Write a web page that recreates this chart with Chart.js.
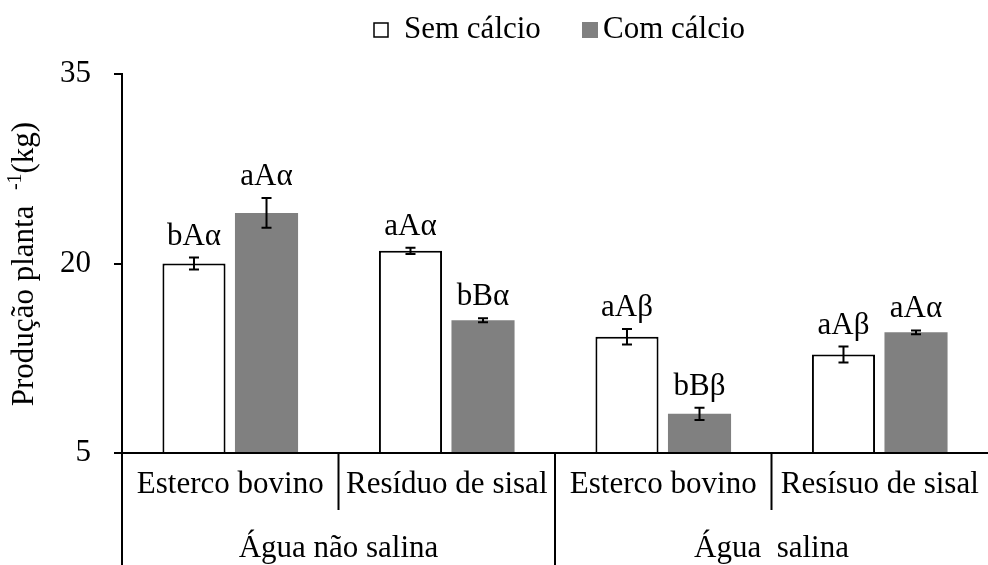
<!DOCTYPE html>
<html>
<head>
<meta charset="utf-8">
<script src="https://cdn.jsdelivr.net/npm/chart.js@4"></script>
<style>
  html, body { margin: 0; padding: 0; background: #fff; }
  #wrap { width: 988px; height: 565px; }
</style>
</head>
<body>
<div id="wrap"><canvas id="grafico"></canvas></div>
<script>
const categorias = ['Esterco bovino', 'Resíduo de sisal', 'Esterco bovino', 'Resísuo de sisal'];
const grupos = ['Água não salina', 'Água  salina'];
const semCalcio = [20.0, 21.0, 14.2, 12.8];
const comCalcio = [24.0, 15.5, 8.1, 14.55];
const erroSem = [0.47, 0.24, 0.62, 0.63];
const erroCom = [1.18, 0.16, 0.49, 0.15];
const letrasSem = ['bAα', 'aAα', 'aAβ', 'aAβ'];
const letrasCom = ['aAα', 'bBα', 'bBβ', 'aAα'];
const yTicks = [5, 20, 35];

const FONTE = "'Liberation Serif', 'Times New Roman', serif";

const extras = {
    id: 'extras',
    afterDraw(chart) {
        const ctx = chart.ctx;
        const x = chart.scales.x;
        const y = chart.scales.y;
        const area = chart.chartArea;
        ctx.save();

        // barras de erro e letras
        const erros = [erroSem, erroCom];
        const letras = [letrasSem, letrasCom];
        chart.data.datasets.forEach((ds, d) => {
            const meta = chart.getDatasetMeta(d);
            meta.data.forEach((bar, i) => {
                const v = ds.data[i];
                const yt = y.getPixelForValue(v + erros[d][i]);
                const yb = y.getPixelForValue(v - erros[d][i]);
                ctx.strokeStyle = '#000';
                ctx.lineWidth = 2;
                ctx.beginPath();
                ctx.moveTo(bar.x, yt); ctx.lineTo(bar.x, yb);
                ctx.moveTo(bar.x - 5, yt); ctx.lineTo(bar.x + 5, yt);
                ctx.moveTo(bar.x - 5, yb); ctx.lineTo(bar.x + 5, yb);
                ctx.stroke();
                ctx.fillStyle = '#000';
                ctx.font = '31px ' + FONTE;
                ctx.textAlign = 'center';
                ctx.textBaseline = 'alphabetic';
                ctx.fillText(letras[d][i], bar.x, yt - 13);
            });
        });

        // eixo x em dois niveis
        const n = categorias.length;
        const limite = i => {
            if (i === 0) return area.left;
            if (i === n) return area.right;
            return (x.getPixelForValue(i - 1) + x.getPixelForValue(i)) / 2;
        };
        ctx.strokeStyle = '#000';
        ctx.lineWidth = 2;
        for (let i = 0; i < n; i++) {
            const xl = limite(i);
            const fim = (i % 2 === 0) ? chart.height : area.bottom + 57;
            ctx.beginPath();
            ctx.moveTo(xl, area.bottom);
            ctx.lineTo(xl, fim);
            ctx.stroke();
        }
        ctx.fillStyle = '#000';
        ctx.font = '31px ' + FONTE;
        ctx.textAlign = 'center';
        ctx.textBaseline = 'middle';
        categorias.forEach((c, i) => {
            ctx.fillText(c, x.getPixelForValue(i), area.bottom + 32);
        });
        grupos.forEach((g, k) => {
            const xc = (limite(2 * k) + limite(2 * k + 2)) / 2;
            ctx.fillText(g, xc, area.bottom + 96);
        });

        // legenda
        const ds0 = chart.data.datasets[0];
        const ds1 = chart.data.datasets[1];
        ctx.textAlign = 'left';
        ctx.textBaseline = 'middle';
        ctx.fillStyle = ds0.backgroundColor;
        ctx.fillRect(374, 23, 14, 14);
        ctx.strokeStyle = ds0.borderColor;
        ctx.lineWidth = 1.5;
        ctx.strokeRect(374, 23, 14, 14);
        ctx.fillStyle = '#000';
        ctx.fillText(ds0.label, 404, 30);
        ctx.fillStyle = ds1.backgroundColor;
        ctx.fillRect(582, 22, 16, 16);
        ctx.fillStyle = '#000';
        ctx.fillText(ds1.label, 603, 30);

        // titulo do eixo y com sobrescrito
        ctx.translate(25, 264);
        ctx.rotate(-Math.PI / 2);
        ctx.textBaseline = 'middle';
        const t1 = 'Produção planta  ';
        const t2 = '-1';
        const t3 = '(kg)';
        ctx.font = '31px ' + FONTE;
        const w1 = ctx.measureText(t1).width;
        const w3 = ctx.measureText(t3).width;
        ctx.font = '20px ' + FONTE;
        const w2 = ctx.measureText(t2).width;
        let px = -(w1 + w2 + w3) / 2;
        ctx.font = '31px ' + FONTE;
        ctx.fillText(t1, px, 0);
        px += w1;
        ctx.font = '20px ' + FONTE;
        ctx.fillText(t2, px, -9);
        px += w2;
        ctx.font = '31px ' + FONTE;
        ctx.fillText(t3, px, 0);

        ctx.restore();
    }
};

new Chart(document.getElementById('grafico'), {
    type: 'bar',
    data: {
        labels: categorias,
        datasets: [
            { label: 'Sem cálcio', data: semCalcio, backgroundColor: '#ffffff', borderColor: '#000000', borderWidth: 2, base: 5 },
            { label: 'Com cálcio', data: comCalcio, backgroundColor: '#808080', borderColor: '#808080', borderWidth: 0, base: 5 }
        ]
    },
    options: {
        responsive: true,
        maintainAspectRatio: false,
        animation: false,
        categoryPercentage: 0.67,
        barPercentage: 0.87,
        layout: { padding: { top: 74, right: -6, left: 0, bottom: 0 } },
        plugins: {
            legend: { display: false },
            tooltip: { enabled: false }
        },
        scales: {
            x: {
                grid: { display: false },
                ticks: { display: false },
                border: { display: true, color: '#000', width: 2 },
                afterFit(scale) { scale.height = 112; }
            },
            y: {
                min: 5,
                max: 35,
                afterBuildTicks(scale) { scale.ticks = yTicks.map(v => ({ value: v })); },
                ticks: {
                    color: '#000',
                    padding: 23,
                    font: { family: FONTE, size: 31 }
                },
                grid: { drawOnChartArea: false, drawTicks: true, tickLength: 8, color: '#000', lineWidth: 2 },
                border: { display: true, color: '#000', width: 2 },
                afterFit(scale) { scale.width = 122; }
            }
        }
    },
    plugins: [extras]
});
</script>
</body>
</html>
